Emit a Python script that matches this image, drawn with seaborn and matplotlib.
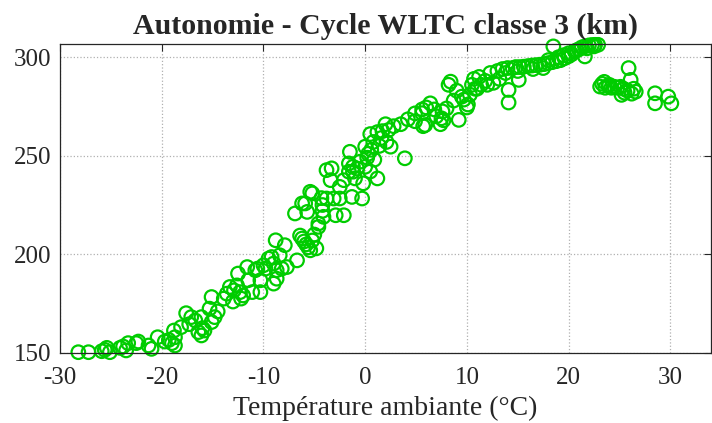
import matplotlib
matplotlib.use("Agg")
import matplotlib.pyplot as plt
import seaborn as sns
import pandas as pd

# Ambient temperature (°C) and WLTC class 3 range (km) for each test run
temperature = [
    -28.2, -27.2, -25.9, -25.4, -25.1, -25.6, -24.1, -23.8, -23.5, -23.3,
    -22.5, -22.3, -21.3, -21.0, -20.4, -19.7, -19.3, -19.0, -18.7, -18.7,
    -18.8, -18.1, -17.6, -17.1, -16.7, -16.4, -16.1, -15.8, -16.1, -15.1,
    -15.3, -15.1, -14.8, -17.3, -16.0,
    -13.9, -13.3, -12.9, -12.6, -12.3, -12.0, -12.5, -11.6, -10.8, -11.5,
    -11.1, -10.3, -10.3, -10.6, -10.0, -9.8, -9.5, -9.2, -9.0, -8.8,
    -8.4, -8.7, -9.0, -8.7, -8.2, -7.7, -7.9, -6.7, -6.9, -6.2,
    -5.7, -5.2, -6.4, -6.2, -6.0, -5.8, -5.6, -5.4, -5.2, -5.0,
    -4.8, -4.6, -13.0, -12.2, -14.5, -13.6,
    -5.9, -5.4, -4.6, -4.2, -4.2, -4.3, -4.1, -3.8, -3.4, -3.3,
    -3.8, -3.1, -2.9, -2.1, -2.5, -2.5, -2.1, -1.6, -1.5, -1.6,
    -1.2, -1.3, -1.2, -0.8, -1.0, -0.3, 0.0, 0.0, 0.3, 0.6,
    0.8, 0.5, 1.2, 1.6, 1.7, 2.0, 1.2, 3.9, 2.5, 2.3,
    2.8, 3.5, 4.2, 4.9, 5.6, 6.0, 4.9, 5.7, 0.2, -0.5,
    0.9, 1.4, 2.1, -0.2, 0.5,
    5.9, 5.6, 6.4, 7.4, 7.5, 7.6, 7.7, 8.4, 8.2, 9.2,
    8.7, 9.0, 9.7, 10.0, 10.1, 10.3, 10.5, 10.7, 11.2, 11.4,
    11.8, 12.3, 12.6, 13.0, 13.5, 14.0, 14.5, 14.1, 14.1, 15.1,
    7.0, 8.0, 9.5, 11.0, 12.0, 13.2, 6.8, 10.8,
    14.8, 15.2, 15.6, 16.0, 16.4, 16.8, 17.2, 17.6, 18.0, 18.4,
    18.8, 19.2, 19.6, 20.0, 13.8, 15.0, 16.5, 17.5, 18.5, 18.0,
    19.0, 19.5, 20.0, 20.3, 20.6, 21.0, 21.3, 21.6, 22.0, 22.3,
    22.6, 22.9, 21.6, 20.8, 21.8, 22.5,
    25.9, 26.1, 23.1, 23.3, 23.6, 23.9, 24.2, 24.5, 24.8, 25.1,
    25.4, 23.5, 24.0, 25.2, 25.8, 26.2, 26.4, 26.6, 28.5, 28.5,
    29.8, 30.1, 25.5,
]
range_km = [
    150.3, 150.3, 150.8, 152.5, 150.3, 151.5, 152.5, 153.2, 151.2, 154.9,
    154.9, 155.7, 153.7, 152.0, 157.9, 155.7, 156.5, 154.9, 153.7, 157.9,
    161.3, 163.0, 170.1, 168.1, 166.4, 160.5, 158.8, 161.3, 168.1, 178.3,
    172.4, 165.6, 168.1, 164.5, 162.5,
    177.5, 183.4, 181.7, 184.2, 180.8, 179.1, 190.2, 193.5, 191.9, 186.8,
    180.8, 186.8, 180.8, 192.7, 194.4, 192.7, 197.8, 198.6, 195.3, 207.1,
    199.5, 191.9, 185.1, 187.6, 192.7, 193.5, 204.6, 196.9, 220.7, 225.8,
    221.5, 230.9, 209.5, 208.0, 206.5, 205.0, 203.5, 202.0, 207.0, 210.0,
    203.0, 213.9, 176.0, 177.5, 171.0, 180.0,
    225.8, 231.7, 215.6, 222.0, 225.0, 228.5, 219.0, 228.3, 237.6, 243.6,
    242.7, 228.3, 219.8, 219.8, 228.3, 234.2, 237.6, 241.9, 252.0, 246.1,
    244.4, 229.1, 241.9, 243.5, 238.5, 228.3, 244.4, 254.6, 251.0, 253.0,
    257.0, 261.0, 262.0, 259.0, 262.5, 266.0, 238.5, 248.7, 254.6, 263.1,
    265.0, 266.0, 268.5, 271.5, 273.5, 274.5, 267.5, 265.0, 249.0, 247.0,
    248.0, 255.0, 257.0, 236.0, 242.0,
    265.6, 271.6, 276.6, 266.0, 269.0, 272.5, 268.0, 287.6, 286.0, 268.2,
    278.0, 283.0, 278.5, 274.5, 276.0, 281.0, 286.0, 289.0, 290.0, 286.0,
    288.0, 292.0, 287.0, 293.0, 294.0, 294.5, 294.5, 283.4, 277.0, 288.5,
    270.0, 274.0, 280.0, 284.0, 286.0, 289.0, 273.5, 284.0,
    295.0, 295.0, 295.2, 295.5, 295.8, 296.0, 296.2, 296.5, 297.0, 297.5,
    298.0, 298.5, 299.5, 300.5, 292.0, 293.0, 294.0, 294.5, 305.5, 298.5,
    300.0, 301.0, 302.0, 301.5, 303.0, 304.0, 305.0, 305.5, 306.0, 306.2,
    306.3, 306.3, 300.4, 303.5, 304.5, 305.5,
    294.5, 288.5, 285.1, 286.5, 284.5, 285.5, 284.5, 285.0, 284.5, 285.0,
    284.0, 287.5, 286.0, 280.9, 283.0, 281.5, 284.0, 282.5, 281.7, 276.6,
    280.0, 276.6, 282.0,
]

x_ticks = [-30, -20, -10, 0, 10, 20, 30]
y_ticks = [150, 200, 250, 300]
title = "Autonomie - Cycle WLTC classe 3 (km)"
x_label = "Température ambiante (°C)"

df = pd.DataFrame({"temperature": temperature, "range_km": range_km})

sns.set_style("white")
plt.rcParams["font.family"] = ["Liberation Serif", "DejaVu Serif"]

fig = plt.figure(figsize=(7.12, 4.23), dpi=100)
ax = fig.add_axes([0.0843, 0.166, 0.9143, 0.729])

green = "#00CC00"
sns.scatterplot(
    data=df, x="temperature", y="range_km", ax=ax,
    marker="o", s=95, facecolors="none", edgecolor=green,
    linewidth=1.6, clip_on=False, legend=False,
)

ax.set_xlim(-30, 34)
ax.set_ylim(150, 306.5)
ax.set_xticks(x_ticks)
ax.set_yticks(y_ticks)
ax.set_xticklabels([str(t) for t in x_ticks])
ax.set_yticklabels([str(t) for t in y_ticks])

ax.grid(True, linestyle=":", color="#b0b0b0", linewidth=0.9)
ax.set_axisbelow(True)
ax.tick_params(direction="in", length=5, width=0.8, top=True, right=True,
               labelsize=18, colors="#262626")
ax.tick_params(axis="x", pad=10)
ax.tick_params(axis="y", pad=6)
for side in ["left", "right", "top", "bottom"]:
    ax.spines[side].set_visible(True)
    ax.spines[side].set_color("#262626")
    ax.spines[side].set_linewidth(0.9)

ax.set_xlabel(x_label, fontsize=20, color="#262626", labelpad=5)
ax.set_ylabel("")
ax.set_title(title, fontsize=21.5, fontweight="bold", y=1.0, pad=8)

fig.savefig("out.png", dpi=100, facecolor="white")
